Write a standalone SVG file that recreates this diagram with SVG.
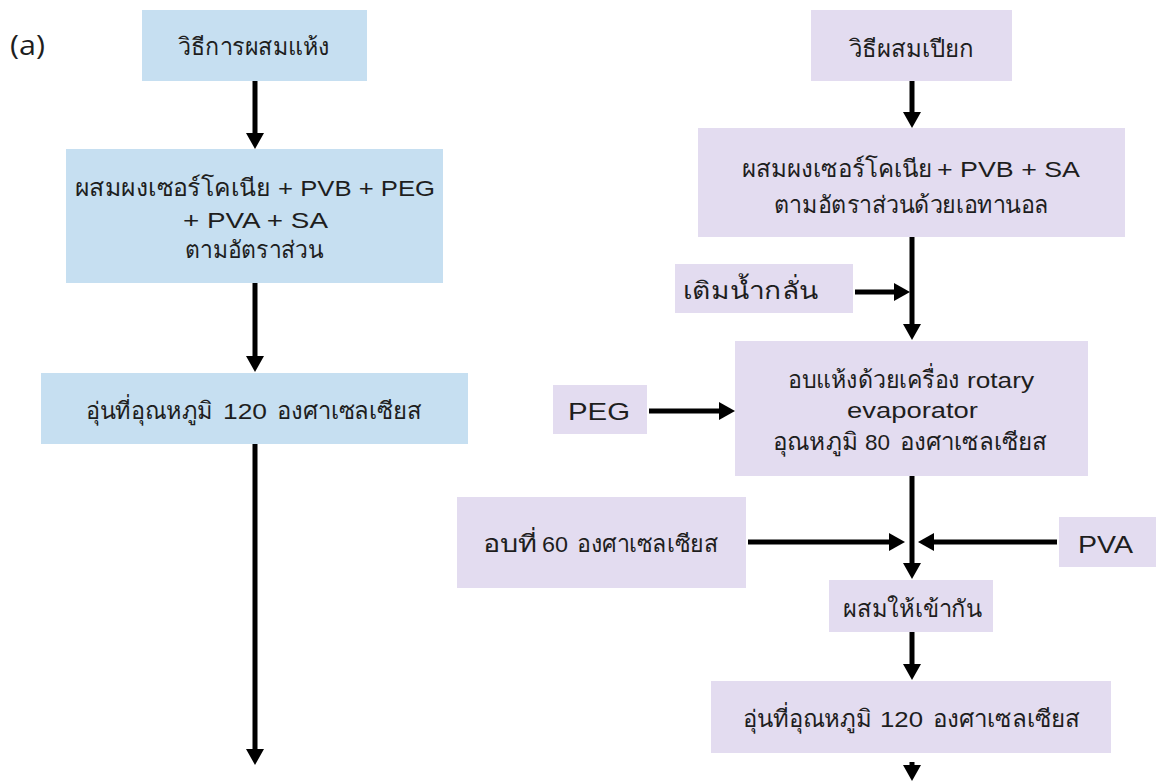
<svg xmlns="http://www.w3.org/2000/svg" width="1156" height="782" viewBox="0 0 1156 782">
<style>
.bl{fill:#c6dff1}
.pu{fill:#e3dcf0}
text{font-family:"Liberation Sans","Noto Sans","DejaVu Sans",sans-serif;fill:#1e1e1e;font-size:22px}
.th{font-size:24px}
.lbl{font-family:"Open Sans","Noto Sans",sans-serif;font-size:27px}
.big{font-size:24px}
.c line{stroke:#000;stroke-width:5;marker-end:url(#ah)}
</style>
<defs>
<marker id="ah" markerUnits="userSpaceOnUse" markerWidth="17" markerHeight="18" refX="1" refY="9" orient="auto">
<path d="M0,0 L16,9 L0,18 z" fill="#000"/>
</marker>
</defs>
<rect width="1156" height="782" fill="#fff"/>
<text class="lbl" x="10" y="55" textLength="35" lengthAdjust="spacingAndGlyphs">(a)</text>

<g id="dry-start"><rect class="bl" x="142" y="10" width="225" height="71"/><text class="th" x="178" y="55" textLength="152" lengthAdjust="spacingAndGlyphs">วิธีการผสมแห้ง</text></g>
<g id="dry-mix"><rect class="bl" x="66" y="149" width="377" height="134"/>
<text class="th" x="75" y="196" textLength="195" lengthAdjust="spacingAndGlyphs">ผสมผงเซอร์โคเนีย</text>
<text x="278" y="196" textLength="157" lengthAdjust="spacingAndGlyphs">+ PVB + PEG</text>
<text x="183" y="228" textLength="145" lengthAdjust="spacingAndGlyphs">+ PVA + SA</text>
<text class="th" x="185" y="258" textLength="138" lengthAdjust="spacingAndGlyphs">ตามอัตราส่วน</text></g>
<g id="dry-heat"><rect class="bl" x="41" y="373" width="427" height="71"/>
<text class="th" x="86" y="419" textLength="127" lengthAdjust="spacingAndGlyphs">อุ่นที่อุณหภูมิ</text>
<text x="223" y="419" textLength="44" lengthAdjust="spacingAndGlyphs">120</text>
<text class="th" x="277" y="419" textLength="145" lengthAdjust="spacingAndGlyphs">องศาเซลเซียส</text></g>

<g id="wet-start"><rect class="pu" x="811" y="10" width="201" height="71"/><text class="th" x="848.5" y="57" textLength="125" lengthAdjust="spacingAndGlyphs">วิธีผสมเปียก</text></g>
<g id="wet-mix"><rect class="pu" x="698" y="128" width="427" height="109"/>
<text class="th" x="742" y="177" textLength="190" lengthAdjust="spacingAndGlyphs">ผสมผงเซอร์โคเนีย</text>
<text x="937" y="177" textLength="143" lengthAdjust="spacingAndGlyphs">+ PVB + SA</text>
<text class="th" x="774" y="213" textLength="275" lengthAdjust="spacingAndGlyphs">ตามอัตราส่วนด้วยเอทานอล</text></g>
<g id="water"><rect class="pu" x="675" y="264" width="178" height="49"/><text class="th" x="683" y="299" textLength="135" lengthAdjust="spacingAndGlyphs">เติมน้ำกลั่น</text></g>
<g id="evap"><rect class="pu" x="735" y="341" width="353" height="135"/>
<text class="th" x="788" y="388" textLength="172" lengthAdjust="spacingAndGlyphs">อบแห้งด้วยเครื่อง</text>
<text x="967" y="388" textLength="67" lengthAdjust="spacingAndGlyphs">rotary</text>
<text x="847" y="418" textLength="131" lengthAdjust="spacingAndGlyphs">evaporator</text>
<text class="th" x="773" y="450" textLength="85" lengthAdjust="spacingAndGlyphs">อุณหภูมิ</text>
<text x="865" y="450" textLength="25" lengthAdjust="spacingAndGlyphs">80</text>
<text class="th" x="900" y="450" textLength="147" lengthAdjust="spacingAndGlyphs">องศาเซลเซียส</text></g>
<g id="peg"><rect class="pu" x="553" y="385" width="94" height="49"/><text class="big" x="568" y="420" textLength="62" lengthAdjust="spacingAndGlyphs">PEG</text></g>
<g id="bake60"><rect class="pu" x="457" y="497" width="289" height="91"/>
<text class="th" x="483" y="552" textLength="54" lengthAdjust="spacingAndGlyphs">อบที่</text>
<text x="542" y="552" textLength="26" lengthAdjust="spacingAndGlyphs">60</text>
<text class="th" x="577" y="552" textLength="141" lengthAdjust="spacingAndGlyphs">องศาเซลเซียส</text></g>
<g id="pva"><rect class="pu" x="1059" y="517" width="97" height="50"/><text class="big" x="1078" y="553" textLength="55" lengthAdjust="spacingAndGlyphs">PVA</text></g>
<g id="combine"><rect class="pu" x="829" y="580" width="164" height="52"/><text class="th" x="843" y="617" textLength="139" lengthAdjust="spacingAndGlyphs">ผสมให้เข้ากัน</text></g>
<g id="wet-heat"><rect class="pu" x="711" y="681" width="400" height="72"/>
<text class="th" x="743" y="727" textLength="129" lengthAdjust="spacingAndGlyphs">อุ่นที่อุณหภูมิ</text>
<text x="880" y="727" textLength="43" lengthAdjust="spacingAndGlyphs">120</text>
<text class="th" x="933" y="727" textLength="147" lengthAdjust="spacingAndGlyphs">องศาเซลเซียส</text></g>

<g class="c" id="connectors">
<line x1="255" y1="81" x2="255" y2="134"/>
<line x1="255" y1="283" x2="255" y2="357"/>
<line x1="255" y1="444" x2="255" y2="750"/>
<line x1="912" y1="81" x2="912" y2="113"/>
<line x1="912" y1="237" x2="912" y2="325"/>
<line x1="855" y1="292" x2="895" y2="292"/>
<line x1="649" y1="411" x2="720" y2="411"/>
<line x1="912" y1="476" x2="912" y2="564"/>
<line x1="748" y1="542" x2="890" y2="542"/>
<line x1="1057" y1="542" x2="933" y2="542"/>
<line x1="912" y1="632" x2="912" y2="665"/>
<line x1="912" y1="762" x2="912" y2="766"/>
</g>
</svg>
